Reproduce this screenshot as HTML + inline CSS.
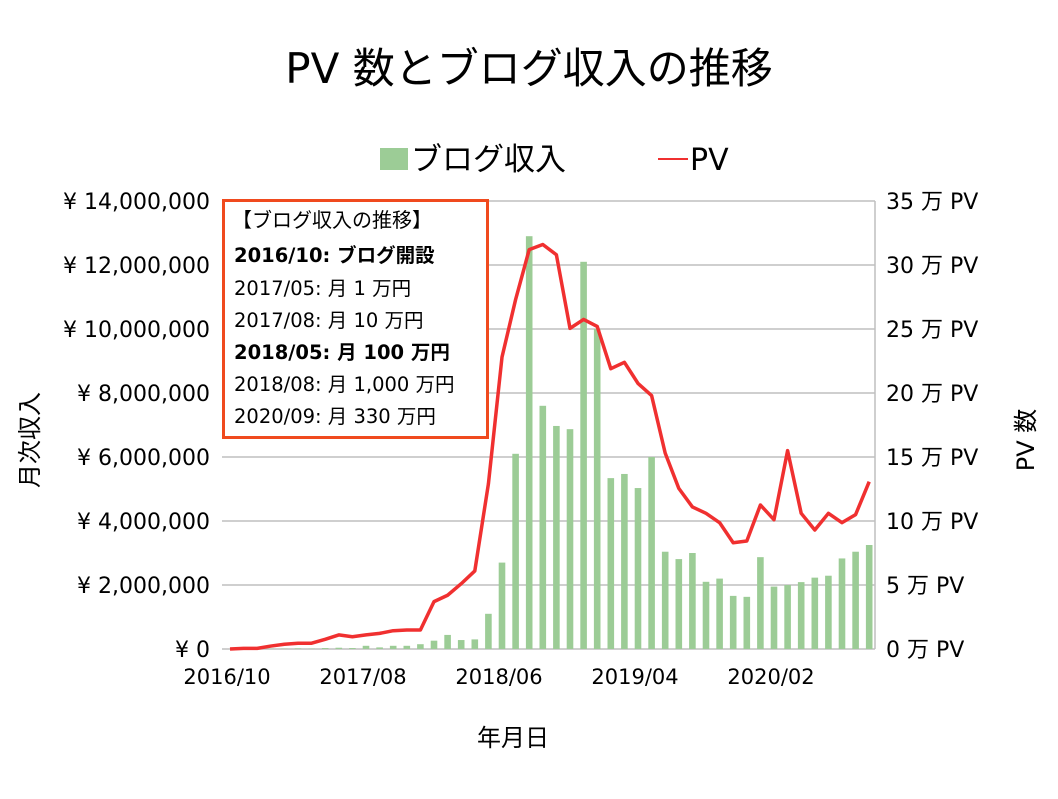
<!DOCTYPE html>
<html><head><meta charset="utf-8"><style>
body{margin:0;background:#fff;}
svg text{font-family:"DejaVu Sans","Noto Sans CJK JP",sans-serif;fill:#000;}
</style></head><body>
<svg id="chart" width="1058" height="794" viewBox="0 0 1058 794">
<text x="529" y="83" font-size="42" text-anchor="middle">PV 数とブログ収入の推移</text>
<g>
<rect x="380" y="148" width="28" height="22" fill="#9ccc96"/>
<text x="411" y="170" font-size="31">ブログ収入</text>
<line x1="658" y1="159" x2="688" y2="159" stroke="#f03030" stroke-width="2"/>
<text x="690" y="170" font-size="30">PV</text>
</g>
<g id="grid"></g><g id="bars"></g><g id="line"></g><g id="axes"></g>
<text transform="translate(38,440) rotate(-90)" font-size="24" text-anchor="middle">月次収入</text>
<text transform="translate(1034,440) rotate(-90)" font-size="24" text-anchor="middle">PV 数</text>
<text x="513" y="746" font-size="24" text-anchor="middle">年月日</text>
<g>
<rect x="223.5" y="200.5" width="264" height="237" fill="#fff" stroke="#f04a1e" stroke-width="3"/>
<text x="232" y="227" font-size="20">【ブログ収入の推移】</text>
<text x="234" y="262" font-size="19.5" font-weight="bold">2016/10: ブログ開設</text>
<text x="234" y="295" font-size="19.5">2017/05: 月 1 万円</text>
<text x="234" y="327" font-size="19.5">2017/08: 月 10 万円</text>
<text x="234" y="359" font-size="19.5" font-weight="bold">2018/05: 月 100 万円</text>
<text x="234" y="391" font-size="19.5">2018/08: 月 1,000 万円</text>
<text x="234" y="423" font-size="19.5">2020/09: 月 330 万円</text>
</g>
</svg>
<script>
const income=[0,0,0,0.01,0.01,0.02,0.01,0.03,0.04,0.03,0.1,0.05,0.1,0.1,0.15,0.26,0.44,0.28,0.3,1.1,2.7,6.1,12.9,7.6,6.97,6.87,12.1,10.0,5.34,5.47,5.03,6.0,3.04,2.81,3.0,2.1,2.2,1.66,1.63,2.87,1.95,2.0,2.09,2.23,2.29,2.83,3.04,3.25];
const pv=[0,0.05,0.05,0.23,0.37,0.45,0.45,0.76,1.1,0.96,1.1,1.22,1.43,1.48,1.48,3.7,4.2,5.1,6.1,12.9,22.8,27.3,31.2,31.6,30.8,25.05,25.75,25.2,21.9,22.4,20.75,19.8,15.3,12.55,11.1,10.6,9.87,8.3,8.44,11.25,10.1,15.5,10.6,9.3,10.6,9.87,10.5,13.07];
const leftTicks=["¥ 0","¥ 2,000,000","¥ 4,000,000","¥ 6,000,000","¥ 8,000,000","¥ 10,000,000","¥ 12,000,000","¥ 14,000,000"];
const rightTicks=["0 万 PV","5 万 PV","10 万 PV","15 万 PV","20 万 PV","25 万 PV","30 万 PV","35 万 PV"];
const xLabels=["2016/10","2017/08","2018/06","2019/04","2020/02"];
const NS="http://www.w3.org/2000/svg";
const X0=230,DX=13.6,Y0=649,YT=201;
const x=i=>X0+DX*i;
const yL=v=>Y0-(Y0-YT)*v/14;
const yR=v=>Y0-(Y0-YT)*v/35;
function mk(t,a,p){const e=document.createElementNS(NS,t);for(const k in a)e.setAttribute(k,a[k]);p.appendChild(e);return e;}
const grid=document.getElementById('grid'),axes=document.getElementById('axes');
for(let k=0;k<leftTicks.length;k++){
 const yy=yL(k*2);
 const g=mk('line',{x1:222,x2:875,y1:yy,y2:yy,stroke:'#bfbfbf','stroke-width':1.5},grid);
 
 
 const t=mk('text',{x:210,y:yy+8,'font-size':22,'text-anchor':'end'},axes);t.textContent=leftTicks[k];
 
 
 const r=mk('text',{x:886,y:yy+8,'font-size':22},axes);r.textContent=rightTicks[k];
 
 
}
const rb=mk('line',{x1:875,x2:875,y1:YT,y2:Y0,stroke:'#bfbfbf','stroke-width':1.5},axes);


const bars=document.getElementById('bars');
income.forEach((v,i)=>{
 const r=mk('rect',{x:x(i)-3.3,y:yL(v),width:6.6,height:Math.max(0,Y0-yL(v)),fill:'#9ccc96'},bars);
 
 
});
xLabels.forEach((l,k)=>{
 const t=mk('text',{x:x(k*10)-3,y:684,'font-size':21,'text-anchor':'middle'},axes);t.textContent=l;
 
 
});
const p=mk('polyline',{points:pv.map((v,i)=>x(i)+','+yR(v)).join(' '),fill:'none',stroke:'#f03030','stroke-width':3.5,'stroke-linejoin':'round'},document.getElementById('line'));


</script>
</body></html>
